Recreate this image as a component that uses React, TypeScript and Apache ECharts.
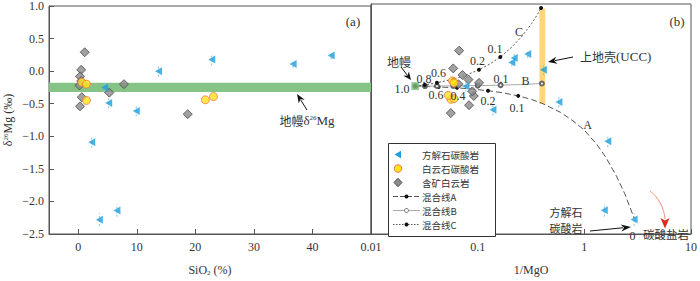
import React, { useEffect, useRef } from 'react';
import * as echarts from 'echarts';

// ---------- data ----------
// 方解石碳酸岩 (calcite carbonatite)
const calciteSiO2 = [4.5, 5.2, 9.9, 13.7, 2.3, 3.6, 6.6, 22.8, 36.7, 43.2];
const calciteInvMgO = [0.0775, 0.577, 0.139, 0.413, 1.66, 2.93, 1.54, 0.22, 0.209, 0.295];
const calciteD26Mg = [-0.25, -0.49, -0.61, 0.0, -1.09, -2.28, -2.14, 0.18, 0.11, 0.24];
const calciteErr = [0.084, 0.08, 0.085, 0.083, 0.085, 0.1, 0.095, 0.093, 0.06, 0.06];

// 白云石碳酸岩 (dolomite carbonatite)
const dolomiteSiO2 = [0.6, 1.4, 1.4, 21.7, 23.1];
const dolomiteInvMgO = [0.058, 0.06, 0.056, 0.06, 0.053];
const dolomiteD26Mg = [-0.17, -0.2, -0.45, -0.44, -0.39];

// 含矿白云岩 (ore-bearing dolostone)
const oreSiO2 = [1.1, 0.5, 0.3, 0.5, 0.2, 0.6, 0.3, 5.3, 7.8, 18.7];
const oreInvMgO = [0.067, 0.059, 0.072, 0.082, 0.066, 0.092, 0.083, 0.089, 0.103, 0.056];
const oreD26Mg = [0.29, 0.02, -0.08, -0.15, -0.22, -0.4, -0.54, -0.33, -0.2, -0.66];

// mantle δ26Mg band and end-members
const mantleBand = [-0.32, -0.18];
const mantlePoint = [0.026, -0.25];
const uccBox = [[0.379, -0.52], [0.43, 0.93]];

// mixing lines: fraction-marked points and other points
const lineATicks = [[0.026, -0.25], [0.0324, -0.255], [0.043, -0.262], [0.064, -0.276], [0.125, -0.319], [0.24, -0.398]];
const lineAPath = [[0.085, -0.291], [0.17, -0.35], [0.32, -0.453], [0.4, -0.51], [0.6, -0.65], [0.8, -0.79], [1.0, -0.92], [1.3, -1.13], [1.6, -1.34], [2.0, -1.62], [2.4, -1.89], [2.93, -2.26]];
const lineBTicks = [[0.026, -0.25], [0.032, -0.249], [0.0415, -0.248], [0.059, -0.246], [0.1, -0.242], [0.164, -0.235], [0.4, -0.21]];
const lineBPath = [[0.25, -0.226]];
const lineCTicks = [[0.026, -0.25], [0.0319, -0.231], [0.0415, -0.2], [0.0591, -0.143], [0.1028, 0.0], [0.163, 0.194], [0.393, 0.94]];
const lineCPath = [[0.08, -0.075], [0.13, 0.087], [0.21, 0.347], [0.26, 0.509], [0.32, 0.7], [0.36, 0.83]];

const xTicksLeft = [0, 10, 20, 30, 40];

const names = ['方解石碳酸岩', '白云石碳酸岩', '含矿白云岩', '混合线A', '混合线B', '混合线C'];

// ---------- styling ----------
const SERIF = '"Liberation Serif", "Times New Roman", serif';
const CJK = '"Noto Sans CJK SC", sans-serif';
const AX = '#555';
const TXT = '#333';
const BLUE = '#1C9FDC';
const YEL = '#FFE21A';
const YEL_B = '#F0764A';
const GREY = '#8A8A8A';
const GREY_B = '#4A4A4A';

function buildLine(ticks: number[][], path: number[][], sym = 'circle') {
  const all = [
    ...ticks.map((p) => ({ value: p, symbol: sym })),
    ...path.map((p) => ({ value: p, symbol: 'none' })),
  ];
  all.sort((a, b) => a.value[0] - b.value[0]);
  return all;
}

function arrow(x1: number, y1: number, x2: number, y2: number, color: string, len: number, w: number) {
  const dx = x2 - x1, dy = y2 - y1;
  const L = Math.sqrt(dx * dx + dy * dy);
  const ux = dx / L, uy = dy / L;
  const bx = x2 - ux * len, by = y2 - uy * len;
  const px = -uy, py = ux;
  return [
    { type: 'line', shape: { x1, y1, x2: bx + ux * 2, y2: by + uy * 2 }, style: { stroke: color, lineWidth: 1 }, silent: true, z: 50 },
    {
      type: 'polygon',
      shape: { points: [[x2, y2], [bx + px * w / 2, by + py * w / 2], [bx + ux * len * 0.3, by + uy * len * 0.3], [bx - px * w / 2, by - py * w / 2]] },
      style: { fill: color }, silent: true, z: 50,
    },
  ];
}

function txt(x: number, y: number, text: string, font: string, align = 'center', rich?: any) {
  return {
    type: 'text', x, y, silent: true, z: 50,
    style: {
      text, font, fill: TXT, align, verticalAlign: 'middle', textAlign: align, textVerticalAlign: 'middle',
      ...(rich ? { rich } : {}),
    },
  };
}

const richMain = {
  c: { fontFamily: CJK, fontSize: 12, color: TXT },
  g: { fontFamily: SERIF, fontSize: 13, color: TXT },
  s: { fontFamily: SERIF, fontSize: 7, color: TXT, verticalAlign: 'top' },
};

function legendGraphics() {
  const x0 = 388, y0 = 143, w = 107, h = 93;
  const rows = [154.5, 168.5, 182.5, 196.5, 210.5, 224.5];
  const sx = 398, lx1 = 393, lx2 = 420, tx = 422;
  const g: any[] = [
    { type: 'rect', shape: { x: x0 + 0.5, y: y0 + 0.5, width: w, height: h }, style: { fill: '#fff', stroke: '#333', lineWidth: 1 }, z: 40, silent: true },
  ];
  const r = rows;
  g.push({ type: 'polygon', shape: { points: [[sx - 3.5, r[0]], [sx + 3, r[0] - 3.8], [sx + 3, r[0] + 3.8]] }, style: { fill: BLUE }, z: 41, silent: true });
  g.push({ type: 'circle', shape: { cx: sx, cy: r[1], r: 3.8 }, style: { fill: YEL, stroke: YEL_B, lineWidth: 1 }, z: 41, silent: true });
  g.push({ type: 'polygon', shape: { points: [[sx, r[2] - 4.2], [sx + 4, r[2]], [sx, r[2] + 4.2], [sx - 4, r[2]]] }, style: { fill: GREY, stroke: GREY_B, lineWidth: 1 }, z: 41, silent: true });
  // line A
  g.push({ type: 'line', shape: { x1: lx1, y1: r[3], x2: lx2, y2: r[3] }, style: { stroke: '#555', lineWidth: 1, lineDash: [5, 2] }, z: 41, silent: true });
  g.push({ type: 'circle', shape: { cx: (lx1 + lx2) / 2, cy: r[3], r: 2 }, style: { fill: '#111' }, z: 42, silent: true });
  // line B
  g.push({ type: 'line', shape: { x1: lx1, y1: r[4], x2: lx2, y2: r[4] }, style: { stroke: '#AAA', lineWidth: 1 }, z: 41, silent: true });
  g.push({ type: 'circle', shape: { cx: (lx1 + lx2) / 2, cy: r[4], r: 2 }, style: { fill: '#fff', stroke: '#666', lineWidth: 1 }, z: 42, silent: true });
  // line C
  g.push({ type: 'line', shape: { x1: lx1, y1: r[5], x2: lx2, y2: r[5] }, style: { stroke: '#555', lineWidth: 1, lineDash: [1.5, 1.5] }, z: 41, silent: true });
  g.push({ type: 'circle', shape: { cx: (lx1 + lx2) / 2, cy: r[5], r: 2 }, style: { fill: '#111' }, z: 42, silent: true });
  names.forEach((n, i) => {
    g.push({
      type: 'text', x: tx, y: r[i], z: 42, silent: true,
      style: { text: n, font: '9.5px ' + CJK, fill: TXT, align: 'left', verticalAlign: 'middle', textAlign: 'left', textVerticalAlign: 'middle', lineHeight: 10 },
    });
  });
  return g;
}

export default function App() {
  const ref = useRef<HTMLDivElement>(null);

  useEffect(() => {
    if (!ref.current) return;
    const chart = echarts.init(ref.current, null, { renderer: 'svg' });

    const numFont = '12px ' + SERIF;
    const cjkFont = '12px ' + CJK;

    const graphics: any[] = [
      txt(353, 21, '(a)', '13px ' + SERIF),
      txt(677, 21, '(b)', '13px ' + SERIF),
      txt(307, 120, '{c|地幔}{g|δ}{s|26}{g|Mg}', cjkFont, 'center', richMain),
      ...arrow(307, 110, 297, 94, '#111', 9, 7),
      txt(399, 61, '地幔', cjkFont),
      ...arrow(401, 67, 411, 80, '#111', 8, 7),
      txt(402, 89, '1.0', numFont),
      txt(424, 79, '0.8', numFont),
      txt(438.5, 72.5, '0.6', numFont),
      txt(436, 95, '0.6', numFont),
      txt(458, 95.5, '0.4', numFont),
      txt(477.5, 60.5, '0.2', numFont),
      txt(495, 49, '0.1', numFont),
      txt(519, 32, 'C', numFont),
      txt(501, 79, '0.1', numFont),
      txt(525.5, 81, 'B', numFont),
      txt(488, 100.5, '0.2', numFont),
      txt(517, 107.5, '0.1', numFont),
      txt(587.5, 125, 'A', numFont),
      txt(632.5, 235.5, '0', numFont),
      txt(580, 56.7, '{c|上地壳}{g|(UCC)}', cjkFont, 'left', richMain),
      ...arrow(573, 57, 548, 62, '#111', 9, 7),
      txt(566, 212, '方解石', '11px ' + CJK),
      txt(566, 228.3, '碳酸岩', '11px ' + CJK),
      ...arrow(590, 231, 631, 227, '#111', 10, 7),
      txt(666, 234.3, '碳酸盐岩', '11.5px ' + CJK),
      {
        type: 'bezierCurve', silent: true, z: 50,
        shape: { x1: 650, y1: 191, cpx1: 658, cpy1: 197, cpx2: 664, cpy2: 207, x2: 665, y2: 219 },
        style: { stroke: '#F0907A', lineWidth: 1, fill: null },
      },
      {
        type: 'polygon', silent: true, z: 50,
        shape: { points: [[665, 228.5], [660.5, 218], [665, 220.5], [669.5, 218]] },
        style: { fill: '#E8281E' },
      },
      ...legendGraphics(),
    ];
    graphics.forEach((g) => { if (g.type === 'text' && g.style && !g.style.lineHeight) g.style.lineHeight = 12; });

    const option: any = {
      animation: false,
      backgroundColor: '#fff',
      grid: [
        { left: 49, top: 4, width: 322, height: 238, show: true, borderColor: AX, borderWidth: 1, backgroundColor: 'transparent' },
        { left: 371, top: 4, width: 323, height: 238, show: true, borderColor: AX, borderWidth: 1, backgroundColor: 'transparent' },
      ],
      xAxis: [
        {
          type: 'value', gridIndex: 0, min: -5, max: 50,
          axisLine: { show: true, onZero: false, lineStyle: { color: AX } },
          axisTick: { show: true, inside: true, length: 5, lineStyle: { color: AX }, customValues: xTicksLeft },
          axisLabel: { customValues: xTicksLeft, fontFamily: SERIF, fontSize: 12, color: TXT, margin: 7 },
          splitLine: { show: false },
          name: '{a|SiO}{s|2}{a| (%)}', nameLocation: 'middle', nameGap: 30,
          nameTextStyle: {
            rich: {
              a: { fontFamily: SERIF, fontSize: 12, color: TXT },
              s: { fontFamily: SERIF, fontSize: 7, color: TXT, verticalAlign: 'bottom' },
            },
          },
        },
        {
          type: 'log', logBase: 10, gridIndex: 1, min: 0.01, max: 10,
          axisLine: { show: true, onZero: false, lineStyle: { color: AX } },
          axisTick: { show: true, inside: true, length: 5, lineStyle: { color: AX } },
          minorTick: { show: false },
          axisLabel: {
            fontFamily: SERIF, fontSize: 12, color: TXT, margin: 7,
            formatter: (v: number) => (v < 0.05 ? '0.01' : v < 0.5 ? '0.1' : v < 5 ? '1' : '10'),
          },
          splitLine: { show: false },
          name: '1/MgO', nameLocation: 'middle', nameGap: 30,
          nameTextStyle: { fontFamily: SERIF, fontSize: 12, color: TXT },
        },
      ],
      yAxis: [
        {
          type: 'value', gridIndex: 0, min: -2.5, max: 1.0, interval: 0.5,
          axisLine: { show: true, onZero: false, lineStyle: { color: AX } },
          axisTick: { show: true, inside: true, length: 5, lineStyle: { color: AX } },
          axisLabel: {
            fontFamily: SERIF, fontSize: 12, color: TXT, margin: 5,
            formatter: (v: number) => (v < 0 ? '\u2212' : '') + Math.abs(v).toFixed(1),
          },
          splitLine: { show: false },
          name: '{a|δ}{s|26}{a|Mg (‰)}', nameLocation: 'middle', nameGap: 35, nameRotate: 90,
          nameTextStyle: {
            rich: {
              a: { fontFamily: SERIF, fontSize: 12, color: TXT },
              s: { fontFamily: SERIF, fontSize: 7, color: TXT, verticalAlign: 'top' },
            },
          },
        },
        {
          type: 'value', gridIndex: 1, min: -2.5, max: 1.0, interval: 0.5,
          axisLine: { show: true, onZero: false, lineStyle: { color: AX } },
          axisTick: { show: false },
          axisLabel: { show: false },
          splitLine: { show: false },
        },
      ],
      series: [
        // ---- left panel ----
        {
          type: 'scatter', name: 'band', xAxisIndex: 0, yAxisIndex: 0, data: [], silent: true,
          markArea: { silent: true, itemStyle: { color: '#86C486' }, data: [[{ yAxis: mantleBand[0] }, { yAxis: mantleBand[1] }]] },
          z: 1,
        },
        {
          type: 'custom', name: 'errL', xAxisIndex: 0, yAxisIndex: 0, silent: true, z: 3,
          data: calciteSiO2.map((x, i) => [x, calciteD26Mg[i], calciteErr[i]]),
          renderItem: (params: any, api: any) => {
            const x = api.value(0), y = api.value(1), e = api.value(2);
            const p1 = api.coord([x, y - e]);
            const p2 = api.coord([x, y + e]);
            return { type: 'line', shape: { x1: p1[0], y1: p1[1], x2: p2[0], y2: p2[1] }, style: { stroke: '#7CC3EA', lineWidth: 1, lineDash: [2, 2] } };
          },
        },
        {
          type: 'scatter', name: names[2], xAxisIndex: 0, yAxisIndex: 0, z: 4,
          symbol: 'diamond', symbolSize: 9,
          itemStyle: { color: GREY, borderColor: GREY_B, borderWidth: 1 },
          data: oreSiO2.map((x, i) => [x, oreD26Mg[i]]),
        },
        {
          type: 'scatter', name: names[1], xAxisIndex: 0, yAxisIndex: 0, z: 5,
          symbol: 'circle', symbolSize: 8,
          itemStyle: { color: YEL, borderColor: YEL_B, borderWidth: 1 },
          data: dolomiteSiO2.map((x, i) => [x, dolomiteD26Mg[i]]),
        },
        {
          type: 'scatter', name: names[0], xAxisIndex: 0, yAxisIndex: 0, z: 6,
          symbol: 'triangle', symbolRotate: 90, symbolSize: [8, 7],
          itemStyle: { color: BLUE },
          data: calciteSiO2.map((x, i) => [x, calciteD26Mg[i]]),
        },
        // ---- right panel ----
        {
          type: 'scatter', name: 'ucc', xAxisIndex: 1, yAxisIndex: 1, data: [], silent: true,
          markArea: { silent: true, itemStyle: { color: '#FFD77A' }, data: [[{ coord: uccBox[0] }, { coord: uccBox[1] }]] },
          z: 1,
        },
        {
          type: 'line', name: names[3], xAxisIndex: 1, yAxisIndex: 1, z: 3,
          symbol: 'circle', symbolSize: 4, showAllSymbol: true,
          lineStyle: { color: '#555', width: 1, type: [6, 3] },
          itemStyle: { color: '#111' },
          data: buildLine(lineATicks, lineAPath),
        },
        {
          type: 'line', name: names[4], xAxisIndex: 1, yAxisIndex: 1, z: 3,
          symbol: 'emptyCircle', symbolSize: 4, showAllSymbol: true,
          lineStyle: { color: '#AAAAAA', width: 1 },
          itemStyle: { color: '#666', borderColor: '#666' },
          data: buildLine(lineBTicks, lineBPath, 'emptyCircle'),
        },
        {
          type: 'line', name: names[5], xAxisIndex: 1, yAxisIndex: 1, z: 3,
          symbol: 'circle', symbolSize: 4, showAllSymbol: true,
          lineStyle: { color: '#555', width: 1, type: [2, 2] },
          itemStyle: { color: '#111' },
          data: buildLine(lineCTicks, lineCPath),
        },
        {
          type: 'scatter', name: 'mantle', xAxisIndex: 1, yAxisIndex: 1, z: 4,
          symbol: 'rect', symbolSize: 8, itemStyle: { color: '#7DBE7D' },
          data: [mantlePoint],
        },
        {
          type: 'custom', name: 'errR', xAxisIndex: 1, yAxisIndex: 1, silent: true, z: 3,
          data: calciteInvMgO.map((x, i) => [x, calciteD26Mg[i], calciteErr[i]]),
          renderItem: (params: any, api: any) => {
            const x = api.value(0), y = api.value(1), e = api.value(2);
            const p1 = api.coord([x, y - e]);
            const p2 = api.coord([x, y + e]);
            return { type: 'line', shape: { x1: p1[0], y1: p1[1], x2: p2[0], y2: p2[1] }, style: { stroke: '#7CC3EA', lineWidth: 1, lineDash: [2, 2] } };
          },
        },
        {
          type: 'scatter', name: names[2], xAxisIndex: 1, yAxisIndex: 1, z: 4,
          symbol: 'diamond', symbolSize: 9,
          itemStyle: { color: GREY, borderColor: GREY_B, borderWidth: 1 },
          data: oreInvMgO.map((x, i) => [x, oreD26Mg[i]]),
        },
        {
          type: 'scatter', name: names[1], xAxisIndex: 1, yAxisIndex: 1, z: 5,
          symbol: 'circle', symbolSize: 8,
          itemStyle: { color: YEL, borderColor: YEL_B, borderWidth: 1 },
          data: dolomiteInvMgO.map((x, i) => [x, dolomiteD26Mg[i]]),
        },
        {
          type: 'scatter', name: names[0], xAxisIndex: 1, yAxisIndex: 1, z: 6,
          symbol: 'triangle', symbolRotate: 90, symbolSize: [8, 7],
          itemStyle: { color: BLUE },
          data: calciteInvMgO.map((x, i) => [x, calciteD26Mg[i]]),
        },
      ],
      graphic: graphics,
    };

    chart.setOption(option);
    return () => chart.dispose();
  }, []);

  return (
    <div
      ref={ref}
      style={{ position: 'fixed', left: 0, top: 0, width: 700, height: 281, background: '#fff' }}
    />
  );
}
